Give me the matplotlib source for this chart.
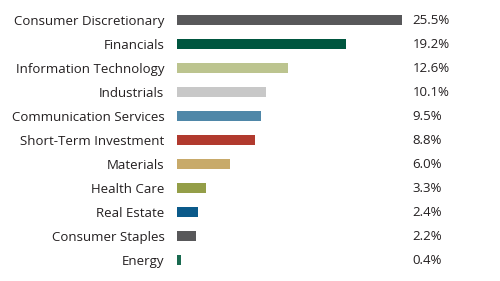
import matplotlib
matplotlib.use("Agg")
import matplotlib.pyplot as plt

plt.rcParams['font.family'] = ['Open Sans', 'DejaVu Sans']

sectors = ['Consumer Discretionary', 'Financials', 'Information Technology', 'Industrials',
           'Communication Services', 'Short-Term Investment', 'Materials', 'Health Care',
           'Real Estate', 'Consumer Staples', 'Energy']
weights = [25.5, 19.2, 12.6, 10.1, 9.5, 8.8, 6.0, 3.3, 2.4, 2.2, 0.4]
colors = ['#58585a', '#00563f', '#bcc48f', '#c8c8c8', '#4f87a8', '#b13a2e',
          '#c8aa6a', '#949e48', '#0b5a8a', '#58585a', '#1a6a50']

fig = plt.figure(figsize=(5, 2.81), dpi=100)
ax = fig.add_axes([0.354, 0.032, 0.45, 0.9395])

pos = list(range(len(sectors)))
ax.barh(pos, weights, height=0.4, color=colors)
ax.set_ylim(len(sectors) - 0.5, -0.5)
ax.set_xlim(0, 25.5)
ax.set_yticks(pos)
ax.set_yticklabels(sectors, fontsize=9.5, color='#231f20')
ax.tick_params(axis='y', length=0, pad=9)
ax.set_xticks([])
for s in ax.spines.values():
    s.set_visible(False)

for p, w in zip(pos, weights):
    ax.annotate('%.1f%%' % w, xy=(1, p), xycoords=('axes fraction', 'data'),
                xytext=(7.5, 0), textcoords='offset points', va='center', ha='left',
                fontsize=9.5, color='#231f20')

fig.savefig('out.png', dpi=100)
